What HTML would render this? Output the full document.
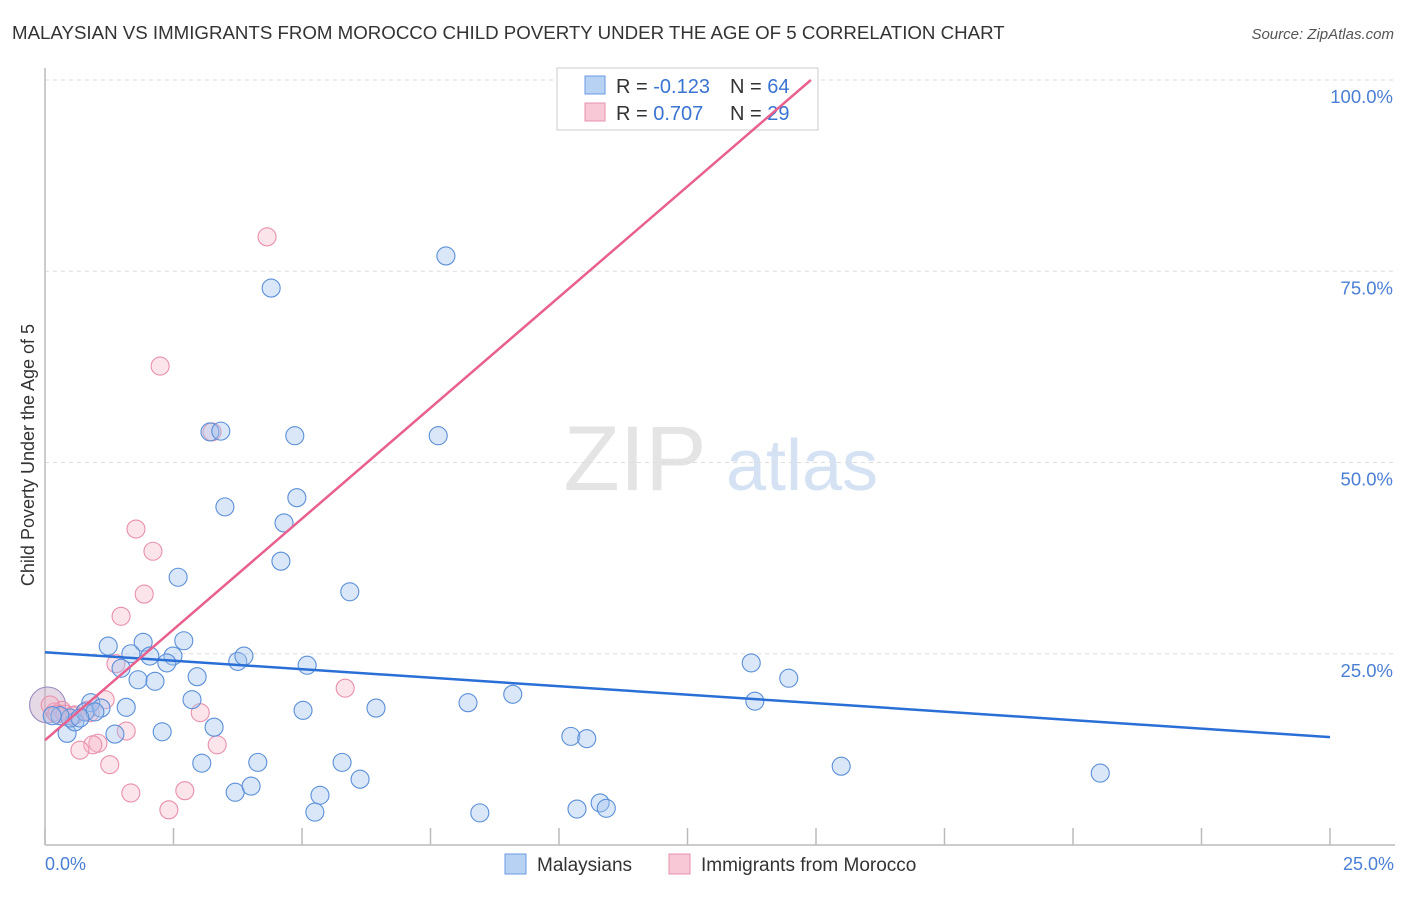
<!DOCTYPE html>
<html><head><meta charset="utf-8"><style>
body{margin:0;background:#fff;font-family:"Liberation Sans",sans-serif;}
svg text{font-family:"Liberation Sans",sans-serif;}
</style></head><body>
<svg width="1406" height="892" viewBox="0 0 1406 892">
<text x="12" y="39" font-size="18.7" fill="#333">MALAYSIAN VS IMMIGRANTS FROM MOROCCO CHILD POVERTY UNDER THE AGE OF 5 CORRELATION CHART</text>
<text x="1394" y="39" font-size="15" fill="#555" font-style="italic" text-anchor="end">Source: ZipAtlas.com</text>
<g>
<text x="635" y="490" font-size="92" fill="#e4e4e4" font-family="Liberation Serif" text-anchor="middle">ZIP</text>
<text x="802" y="490" font-size="72" fill="#d4e2f4" text-anchor="middle">atlas</text>
</g>
<g id="grid"></g>
<g id="axes"></g>
<g id="points"></g>
<g>
<rect x="557" y="68" width="261" height="62" fill="#fff" stroke="#ccc"/>
<rect x="585" y="76" width="20" height="18" fill="#b8d2f4" stroke="#6a9ae0"/>
<rect x="585" y="103" width="20" height="18" fill="#f9c8d6" stroke="#e890ab"/>
<text x="616" y="93" font-size="20" fill="#333">R = <tspan fill="#3a74d0">-0.123</tspan></text>
<text x="730" y="93" font-size="20" fill="#333">N = <tspan fill="#3a74d0">64</tspan></text>
<text x="616" y="120" font-size="20" fill="#333">R = <tspan fill="#3a74d0"> 0.707</tspan></text>
<text x="730" y="120" font-size="20" fill="#333">N = <tspan fill="#3a74d0">29</tspan></text>
</g>
<g id="trends"></g>
<text x="34" y="455" font-size="18" fill="#333" text-anchor="middle" transform="rotate(-90 34 455)">Child Poverty Under the Age of 5</text>
<text x="45" y="870" font-size="18" fill="#4a7fd4">0.0%</text>
<text x="1394" y="870" font-size="18" fill="#4a7fd4" text-anchor="end">25.0%</text>
<g>
<rect x="505" y="854" width="21" height="20" fill="#b8d2f4" stroke="#6a9ae0"/>
<text x="537" y="871" font-size="19" fill="#333">Malaysians</text>
<rect x="669" y="854" width="21" height="20" fill="#f9c8d6" stroke="#e890ab"/>
<text x="701" y="871" font-size="19" fill="#333">Immigrants from Morocco</text>
</g>
</svg>
<script>
const yTicks=[25,50,75,100];
const yTickLabels=["25.0%","50.0%","75.0%","100.0%"];
const xTicks=[0,2.5,5,7.5,10,12.5,15,17.5,20,22.5,25];
const blueX=[4.40,7.80,3.21,3.42,4.86,7.65,4.90,3.50,4.65,4.59,2.59,5.93,1.23,1.91,2.70,1.67,2.04,2.49,2.37,3.75,3.87,1.48,5.10,1.81,2.14,2.96,2.86,0.89,1.09,1.58,5.02,6.44,8.23,9.10,13.74,14.47,13.81,2.28,1.36,0.43,3.29,10.23,10.54,3.05,4.14,5.78,15.49,20.53,3.70,4.01,5.35,6.13,5.25,8.46,10.35,10.80,10.92,0.58,0.49,0.29,0.14,0.78,0.97,0.68];
const blueY=[72.8,77.0,54.0,54.1,53.5,53.5,45.4,44.2,42.1,37.1,35.0,33.1,26.0,26.5,26.7,25.0,24.7,24.7,23.8,24.0,24.7,23.1,23.5,21.6,21.4,22.0,19.0,18.6,17.9,18.0,17.6,17.9,18.6,19.7,23.8,21.8,18.8,14.8,14.5,14.6,15.4,14.2,13.9,10.7,10.8,10.8,10.3,9.4,6.9,7.7,6.5,8.6,4.3,4.2,4.7,5.5,4.8,16.1,16.6,16.9,16.9,17.4,17.4,16.6];
const pinkX=[4.32,2.24,3.25,1.77,2.10,1.93,1.48,1.38,5.84,1.17,3.02,0.82,0.33,0.19,0.53,1.58,1.03,0.93,0.68,1.26,1.67,2.72,2.41,3.35,0.10,0.39,0.23,0.58,0.88];
const pinkY=[79.5,62.6,54.0,41.3,38.4,32.8,29.9,23.7,20.5,19.0,17.3,17.6,17.6,17.4,16.9,14.9,13.3,13.1,12.4,10.5,6.8,7.1,4.6,13.1,18.3,17.1,17.1,17.0,17.3];
const blueTrend=[[0,25.2],[25,14.1]];
const pinkTrend=[[0,13.7],[14.9,100]];
const NS="http://www.w3.org/2000/svg";
const X=v=>45+v*(1285/25);
const Y=v=>845-v*7.65;
function mk(tag,attrs,parent){const e=document.createElementNS(NS,tag);for(const k in attrs)e.setAttribute(k,attrs[k]);document.getElementById(parent).appendChild(e);return e;}
yTicks.forEach((t,i)=>{
 const l=mk('line',{x1:45,x2:1395,y1:Y(t),y2:Y(t),stroke:'#ddd','stroke-dasharray':'4 4'},'grid');
 
 
 const tx=mk('text',{x:1393,y:Y(t)+23,'font-size':18.5,fill:'#4a7fd4','text-anchor':'end'},'grid');
 tx.textContent=yTickLabels[i];
 
 
});
const ya=mk('line',{x1:45,x2:45,y1:68,y2:845,stroke:'#bbb','stroke-width':1.5},'axes');


const xa=mk('line',{x1:45,x2:1395,y1:845,y2:845,stroke:'#bbb','stroke-width':1.5},'axes');


xTicks.forEach(t=>{
 const l=mk('line',{x1:X(t),x2:X(t),y1:828,y2:845,stroke:'#bbb','stroke-width':1.5},'axes');
 
 
});
function pts(xs,ys,fill,stroke,name){xs.forEach((x,i)=>{
 const c=mk('circle',{cx:X(x),cy:Y(ys[i]),r:9,fill:fill,stroke:stroke,'stroke-width':1.1},'points');
 
 
});}
const big=mk('circle',{cx:X(0.05),cy:Y(18.3),r:18,fill:'rgba(200,170,200,0.45)',stroke:'#9a8ac0','stroke-width':1.1},'points');


pts(pinkX,pinkY,'rgba(246,178,198,0.35)','#e890ab','morocco-point');
pts(blueX,blueY,'rgba(160,196,240,0.4)','#5b8fd8','malaysian-point');
const bt=mk('line',{x1:X(blueTrend[0][0]),y1:Y(blueTrend[0][1]),x2:X(blueTrend[1][0]),y2:Y(blueTrend[1][1]),stroke:'#2a6fd6','stroke-width':2.5},'trends');


const pt=mk('line',{x1:X(pinkTrend[0][0]),y1:Y(pinkTrend[0][1]),x2:X(pinkTrend[1][0]),y2:Y(pinkTrend[1][1]),stroke:'#e8608e','stroke-width':2.5},'trends');


</script>
</body></html>
